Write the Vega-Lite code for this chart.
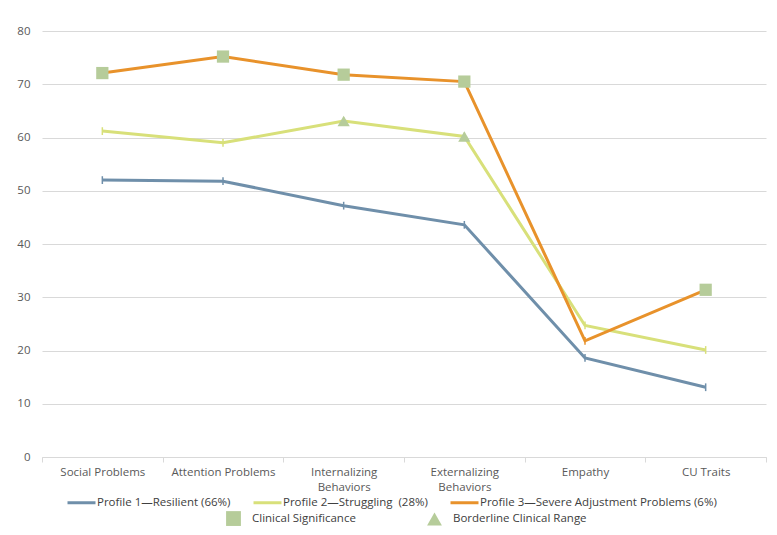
{
  "$schema": "https://vega.github.io/schema/vega-lite/v6.json",
  "autosize": "none",
  "width": 724,
  "height": 426,
  "padding": {"left": 42, "top": 31, "right": 11, "bottom": 78},
  "background": "white",
  "config": {
    "font": "Open Sans",
    "view": {"stroke": null},
    "axis": {"labelColor": "#595959", "labelFontSize": 11.5, "labelFont": "Open Sans"},
    "legend": {"labelColor": "#404040", "labelFontSize": 11.5, "labelFont": "Open Sans", "padding": 0, "labelLimit": 400}
  },
  "data": {
    "values": [
      {"category": "Social Problems", "profile": "Profile 1—Resilient (66%)", "value": 52.0, "marker": null},
      {"category": "Attention Problems", "profile": "Profile 1—Resilient (66%)", "value": 51.8, "marker": null},
      {"category": "Internalizing Behaviors", "profile": "Profile 1—Resilient (66%)", "value": 47.2, "marker": null},
      {"category": "Externalizing Behaviors", "profile": "Profile 1—Resilient (66%)", "value": 43.6, "marker": null},
      {"category": "Empathy", "profile": "Profile 1—Resilient (66%)", "value": 18.6, "marker": null},
      {"category": "CU Traits", "profile": "Profile 1—Resilient (66%)", "value": 13.1, "marker": null},
      {"category": "Social Problems", "profile": "Profile 2—Struggling\u00a0 (28%)", "value": 61.2, "marker": null},
      {"category": "Attention Problems", "profile": "Profile 2—Struggling\u00a0 (28%)", "value": 59.0, "marker": null},
      {"category": "Internalizing Behaviors", "profile": "Profile 2—Struggling\u00a0 (28%)", "value": 63.1, "marker": "Borderline Clinical Range"},
      {"category": "Externalizing Behaviors", "profile": "Profile 2—Struggling\u00a0 (28%)", "value": 60.2, "marker": "Borderline Clinical Range"},
      {"category": "Empathy", "profile": "Profile 2—Struggling\u00a0 (28%)", "value": 24.7, "marker": null},
      {"category": "CU Traits", "profile": "Profile 2—Struggling\u00a0 (28%)", "value": 20.1, "marker": null},
      {"category": "Social Problems", "profile": "Profile 3—Severe Adjustment Problems (6%)", "value": 72.1, "marker": "Clinical Significance"},
      {"category": "Attention Problems", "profile": "Profile 3—Severe Adjustment Problems (6%)", "value": 75.2, "marker": "Clinical Significance"},
      {"category": "Internalizing Behaviors", "profile": "Profile 3—Severe Adjustment Problems (6%)", "value": 71.8, "marker": "Clinical Significance"},
      {"category": "Externalizing Behaviors", "profile": "Profile 3—Severe Adjustment Problems (6%)", "value": 70.5, "marker": "Clinical Significance"},
      {"category": "Empathy", "profile": "Profile 3—Severe Adjustment Problems (6%)", "value": 21.8, "marker": null},
      {"category": "CU Traits", "profile": "Profile 3—Severe Adjustment Problems (6%)", "value": 31.4, "marker": "Clinical Significance"}
    ]
  },
  "encoding": {
    "x": {
      "field": "category", "type": "nominal", "sort": null, "title": null,
      "scale": {"paddingInner": 0, "paddingOuter": 0},
      "axis": {
        "labelAngle": 0, "tickBand": "extent", "domainColor": "#D9D9D9", "tickColor": "#D9D9D9",
        "tickSize": 5, "labelPadding": 4, "grid": false,
        "labelExpr": "indexof(datum.label, 'Behaviors') > 0 ? split(datum.label, ' ') : datum.label",
        "labelLineHeight": 15
      }
    },
    "y": {
      "field": "value", "type": "quantitative", "title": null,
      "scale": {"domain": [0, 80], "nice": false},
      "axis": {"values": [0, 10, 20, 30, 40, 50, 60, 70, 80], "domain": false, "ticks": false, "gridColor": "#D9D9D9", "labelPadding": 12}
    }
  },
  "layer": [
    {
      "mark": {"type": "line", "strokeWidth": 3},
      "encoding": {
        "color": {
          "field": "profile", "type": "nominal",
          "scale": {
            "domain": ["Profile 1—Resilient (66%)", "Profile 2—Struggling\u00a0 (28%)", "Profile 3—Severe Adjustment Problems (6%)"],
            "range": ["#6F8FAA", "#D8E07A", "#E8922B"]
          },
          "legend": {
            "title": null, "orient": "none", "legendX": 24, "legendY": 456, "direction": "horizontal",
            "symbolType": "stroke", "symbolStrokeWidth": 3, "symbolSize": 784, "labelOffset": 0,
            "columnPadding": 16
          }
        }
      }
    },
    {
      "mark": {"type": "point", "shape": "M0,-1V1", "filled": false, "strokeWidth": 1.5, "size": 60, "opacity": 1},
      "encoding": {
        "color": {"field": "profile", "type": "nominal"}
      }
    },
    {
      "transform": [{"filter": "datum.marker != null"}],
      "mark": {"type": "point", "filled": true, "opacity": 1, "color": "#B6CC9A", "size": 150},
      "encoding": {
        "shape": {
          "field": "marker", "type": "nominal",
          "scale": {"domain": ["Clinical Significance", "Borderline Clinical Range"], "range": ["square", "triangle-up"]},
          "legend": {
            "title": null, "orient": "none", "legendX": 183, "legendY": 479, "direction": "horizontal",
            "symbolFillColor": "#B6CC9A", "symbolStrokeColor": "#B6CC9A", "symbolSize": 220, "labelOffset": 10,
            "columnPadding": 68, "symbolOpacity": 1
          }
        }
      }
    }
  ]
}
